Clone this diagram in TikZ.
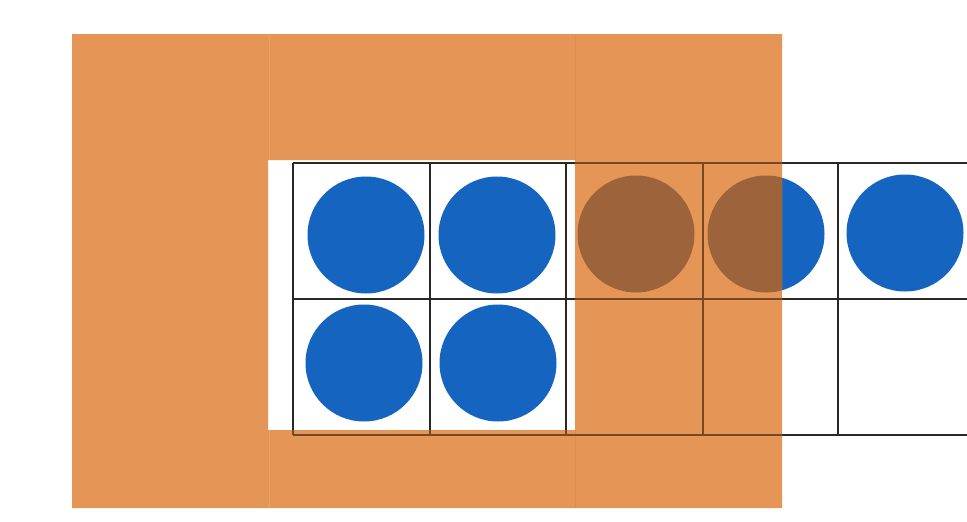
\documentclass[tikz,border=0pt]{standalone}
\usetikzlibrary{calc}
\definecolor{frameorange}{RGB}{229,150,87}
\definecolor{seam}{RGB}{236,160,98}
\definecolor{seamdark}{RGB}{220,140,78}
\definecolor{dotblue}{RGB}{21,101,192}
\definecolor{dotbrown}{RGB}{157,99,58}
\definecolor{gridline}{RGB}{40,40,40}
\definecolor{gridbrown}{RGB}{120,72,34}
\tikzset{
  gridstroke/.style={line width=1.4pt},
  dot/.style={fill=dotblue},
  shadedot/.style={fill=dotbrown},
}
\begin{document}
\begin{tikzpicture}[x=1pt,y=-1pt]
\useasboundingbox (0,0) rectangle (967,522);
\fill[white] (0,0) rectangle (967,522);
% ten-frame grid
\draw[gridstroke, gridline] (293,163) -- (980,163) (293,299) -- (980,299) (293,435) -- (980,435)
  (293,163) -- (293,435) (430,163) -- (430,435) (566,163) -- (566,435)
  (703,163) -- (703,435) (838,163) -- (838,435);
% counters
\foreach \cx/\cy in {366/235, 497/235, 636/234, 766/234, 905/233, 364/363, 498/363}
  \fill[dot] (\cx,\cy) circle (58.5);
% orange cover with window
\fill[frameorange, even odd rule] (72,34) rectangle (782,508) (268,160) rectangle (575,430);
% seams
\draw[seam, line width=1pt] (269,34) -- (269,160) (269,430) -- (269,508);
\draw[seamdark, line width=1pt] (575,34) -- (575,160) (575,430) -- (575,508);
% counters seen through cover
\begin{scope}
  \clip (575,34) rectangle (782,508);
  \foreach \cx/\cy in {636/234, 766/234}
    \fill[shadedot] (\cx,\cy) circle (58.5);
  \draw[gridstroke, gridbrown] (566,163) -- (782,163) (566,299) -- (782,299) (566,435) -- (782,435)
    (703,163) -- (703,435);
\end{scope}
\begin{scope}
  \clip (268,430) rectangle (575,440);
  \draw[gridstroke, gridbrown] (293,435) -- (575,435) (293,430) -- (293,435) (430,430) -- (430,435) (566,430) -- (566,435);
\end{scope}
\end{tikzpicture}
\end{document}
